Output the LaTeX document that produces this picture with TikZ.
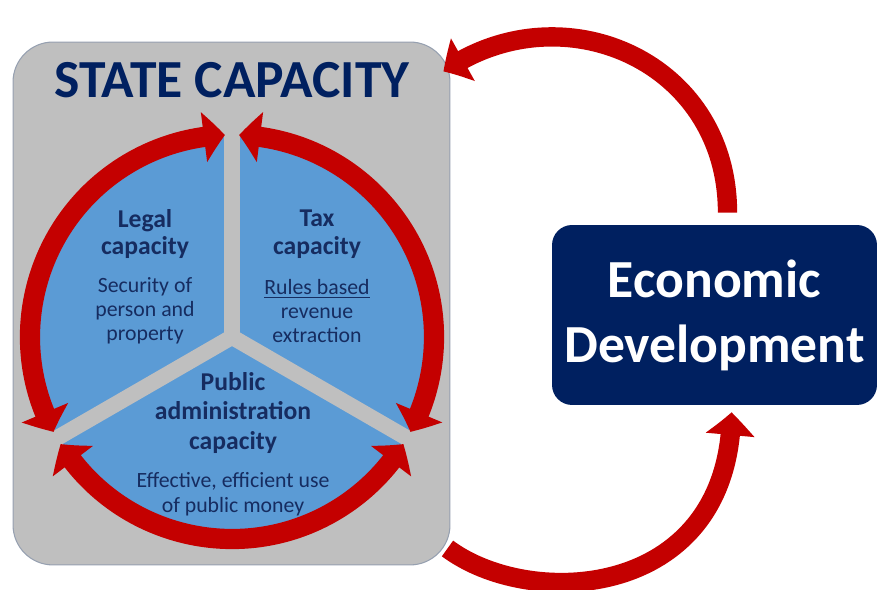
\documentclass[tikz,border=0pt]{standalone}
\usepackage{fontspec}
\setmainfont{Carlito}
\usepackage{xcolor}
\usetikzlibrary{positioning,calc,arrows.meta,bending}
\definecolor{panelgray}{RGB}{191,191,191}
\definecolor{panelline}{RGB}{150,160,176}
\definecolor{ringblue}{RGB}{91,155,213}
\definecolor{ringred}{RGB}{196,0,0}
\definecolor{navy}{RGB}{0,32,96}
\definecolor{textnavy}{RGB}{22,44,96}

\begin{document}
\begin{tikzpicture}[
    x=0.02cm, y=0.02cm,
    panel/.style={rectangle, draw=panelline, fill=panelgray, line width=0.6pt, rounded corners=0.8cm, minimum width=8.74cm, minimum height=10.46cm},
    devbox/.style={rectangle, fill=navy, rounded corners=0.4cm, minimum width=6.5cm, minimum height=3.6cm, text=white, align=center, font=\bfseries\fontsize{30.5}{37}\selectfont},
    sectorhead/.style={align=center, inner sep=0pt, text=textnavy, font=\bfseries\fontsize{14.6}{15.9}\selectfont},
    sectornote/.style={align=center, inner sep=0pt, text=textnavy, font=\fontsize{12.4}{13.6}\selectfont},
    spoke/.style={line width=9pt, draw=panelgray},
    ring/.style={line width=11.5pt, draw=ringred, {Triangle[length=12pt,width=28pt,bend]}-{Triangle[length=12pt,width=28pt,bend]}},
    feedback/.style={line width=11pt, draw=ringred, -{Triangle[length=13pt,width=27pt,bend]}}
]
\useasboundingbox (0,0) rectangle (878,590);

\node[panel] (state) at (231.5,286.5) {};
\coordinate (hub) at (232,253);
\fill[ringblue] (hub) circle[radius=200];
\foreach \a in {90,210,330}
    \draw[spoke] (hub) -- ++(\a:202);

\draw[ring] ($(hub)+(208:202)$) arc[start angle=208, end angle=92, radius=202];
\draw[ring] ($(hub)+(88:202)$) arc[start angle=88, end angle=-28, radius=202];
\draw[ring] ($(hub)+(212:202)$) arc[start angle=212, end angle=328, radius=202];

\node[text=navy, font=\bfseries\fontsize{30.5}{34}\selectfont] (title) at (232,510) {STATE CAPACITY};
\node[sectorhead] (legal) at (145,356) {Legal\\capacity};
\node[sectornote] (legalnote) at (145,279) {Security of\\person and\\property};
\node[sectorhead] (tax) at (317,356) {Tax\\capacity};
\node[sectornote] (taxnote) at (317,279) {\underline{Rules based}\\revenue\\extraction};
\node[sectorhead, font=\bfseries\fontsize{14.6}{17}\selectfont] (public) at (233,177) {Public\\administration\\capacity};
\node[sectornote, font=\fontsize{12.4}{14.2}\selectfont] (publicnote) at (233,95.5) {Effective, efficient use\\of public money};

\node[devbox] (econ) at (714.5,275) {Economic\\Development};

\draw[feedback] ($(econ.north)+(13,12)$) .. controls +(0,153) and +(117,82) .. ($(state.north east)+(-7,-30)$);
\draw[feedback] ($(state.south east)+(-3,17)$) .. controls +(83,-62) and +(-2,-188) .. ($(econ.south)+(17,-7)$);
\end{tikzpicture}
\end{document}
